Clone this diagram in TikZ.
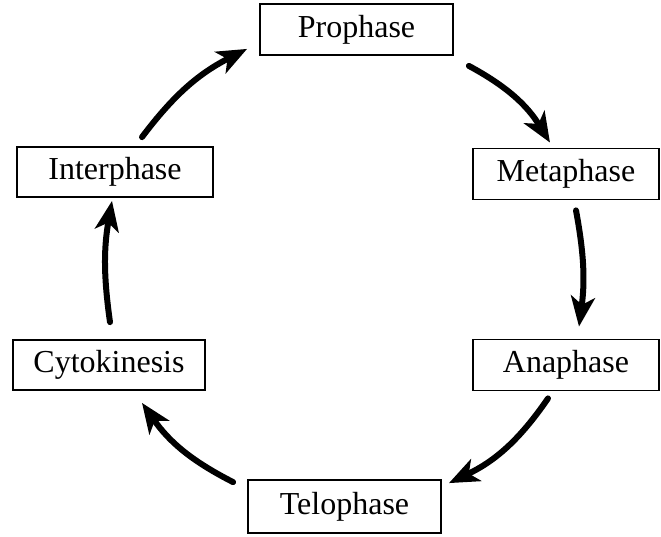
\documentclass[tikz,border=0pt]{standalone}
\usepackage{fontspec}
\setmainfont{Liberation Serif}
\usetikzlibrary{arrows.meta}
\begin{document}
\begin{tikzpicture}[x=1pt,y=-1pt,
  phase/.style={draw, line width=1.8pt, minimum width=193pt, minimum height=51pt,
    inner sep=0pt, font=\fontsize{32}{38}\selectfont},
  cyc/.style={line width=6pt, line cap=round,
    -{Stealth[length=30pt,width=24pt,inset=8pt]}}]
\useasboundingbox (0,0) rectangle (661,536);
\node[phase] (pro) at (356.5,29.5) {Prophase};
\node[phase, minimum width=186pt] (meta) at (566,174) {Metaphase};
\node[phase, minimum width=186pt] (ana) at (566,365) {Anaphase};
\node[phase, minimum height=53pt] (telo) at (344.5,506.5) {Telophase};
\node[phase, minimum width=192pt, minimum height=50pt] (cyto) at (109,365) {Cytokinesis};
\node[phase, minimum width=196pt, minimum height=50pt] (inter) at (115,172) {Interphase};

\draw[cyc] ([shift={(27pt,9pt)}]inter.north) to[bend left=13] ([shift={(-12pt,7pt)}]pro.south west);
\draw[cyc] ([shift={(15pt,-10pt)}]pro.south east) to[bend left=15] ([shift={(-16pt,5pt)}]meta.north);
\draw[cyc] ([shift={(10pt,-10pt)}]meta.south) to[bend left=9] ([shift={(13pt,12pt)}]ana.north);
\draw[cyc] ([shift={(-18pt,-7pt)}]ana.south) to[bend left=15] ([shift={(7pt,-4pt)}]telo.north east);
\draw[cyc] ([shift={(-14pt,-3pt)}]telo.north west) to[bend left=14] ([shift={(33pt,-12pt)}]cyto.south);
\draw[cyc] ([shift={(1pt,17pt)}]cyto.north) to[bend left=9] ([shift={(-3pt,-3pt)}]inter.south);
\end{tikzpicture}
\end{document}
